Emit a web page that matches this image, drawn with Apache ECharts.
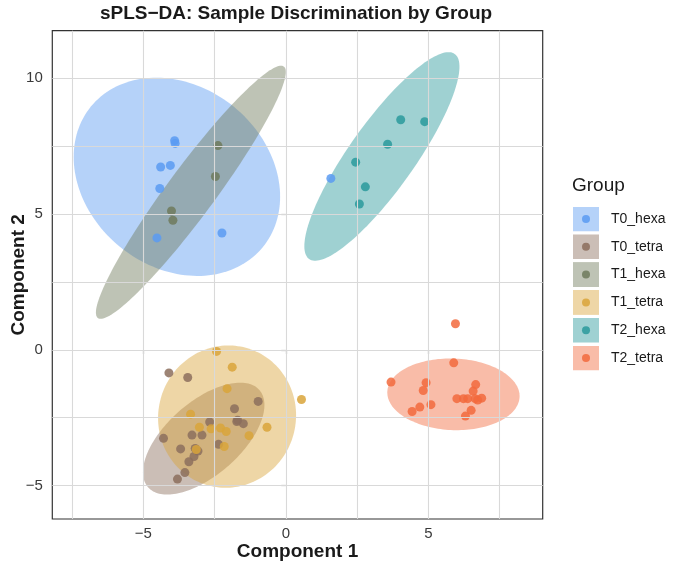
<!DOCTYPE html>
<html><head><meta charset="utf-8">
<script src="https://cdn.jsdelivr.net/npm/echarts@6/dist/echarts.min.js"></script>
<style>html,body{margin:0;padding:0;background:#fff}#chart{width:673px;height:567px}</style>
</head><body><div id="chart"></div>
<script>
// ---- data ----
const groups = ['T0_hexa', 'T0_tetra', 'T1_hexa', 'T1_tetra', 'T2_hexa', 'T2_tetra'];
const groupColors = ['#5B9BF2', '#8C6E5D', '#6E7A5C', '#D9A53A', '#2A9A9C', '#F26A3D'];

const T0_hexa = [[-3.90, 7.70], [-3.88, 7.60], [-4.39, 6.73], [-4.05, 6.79], [-4.42, 5.94], [-4.52, 4.12], [-2.24, 4.30], [1.58, 6.31]];
const T0_tetra = [[-4.10, -0.85], [-3.44, -1.02], [-0.97, -1.90], [-1.80, -2.17], [-2.67, -2.66], [-1.72, -2.64], [-1.69, -2.59], [-1.49, -2.72], [-4.29, -3.26], [-3.29, -3.14], [-2.94, -3.14], [-3.69, -3.65], [-3.18, -3.63], [-3.08, -3.73], [-2.36, -3.48], [-3.22, -3.93], [-3.40, -4.12], [-3.54, -4.52], [-3.80, -4.76]];
const T1_hexa = [[-2.38, 7.52], [-2.47, 6.38], [-4.01, 5.11], [-3.96, 4.77]];
const T1_tetra = [[-2.43, -0.06], [-1.88, -0.64], [-2.06, -1.43], [0.55, -1.83], [-3.34, -2.37], [-0.66, -2.85], [-3.03, -2.85], [-2.62, -2.91], [-2.29, -2.88], [-2.09, -3.01], [-1.29, -3.16], [-2.16, -3.56], [-3.14, -3.67]];
const T2_hexa = [[4.03, 8.47], [4.87, 8.40], [3.57, 7.57], [2.45, 6.91], [2.79, 6.00], [2.58, 5.37]];
const T2_tetra = [[5.95, 0.96], [5.89, -0.48], [3.69, -1.19], [4.92, -1.21], [4.82, -1.50], [6.66, -1.28], [6.57, -1.52], [6.00, -1.80], [6.23, -1.80], [6.38, -1.80], [6.64, -1.80], [6.87, -1.78], [6.73, -1.85], [5.09, -2.02], [4.70, -2.11], [4.43, -2.27], [6.50, -2.23], [6.30, -2.44]];
const groupPoints = [T0_hexa, T0_tetra, T1_hexa, T1_tetra, T2_hexa, T2_tetra];

// confidence ellipses: centre, half-extent in x and y, correlation
const ellipseCx = [-3.82, -2.88, -3.33, -2.06, 3.37, 5.88];
const ellipseCy = [6.37, -3.27, 5.80, -2.46, 7.12, -1.64];
const ellipseEx = [3.62, 2.13, 3.33, 2.42, 2.72, 2.32];
const ellipseEy = [3.65, 2.06, 4.66, 2.62, 3.84, 1.32];
const ellipseR = [-0.20, 0.60, 0.95, 0.02, 0.86, -0.05];

const xTicks = [-5, 0, 5];
const yTicks = [-5, 0, 5, 10];
const xGrid = [-7.5, -5, -2.5, 0, 2.5, 5, 7.5];
const yGrid = [-5, -2.5, 0, 2.5, 5, 7.5, 10];

// ---- chart ----
const FONT = '"Liberation Sans", Arial, Helvetica, sans-serif';
const FILL_ALPHA = 0.45;
const chart = echarts.init(document.getElementById('chart'), null, {renderer: 'canvas'});
const fmt = v => String(v).replace('-', '\u2212');

function renderEllipse(params, api) {
  const cx = api.value(0), cy = api.value(1), ex = api.value(2), ey = api.value(3), r = api.value(4);
  const s = Math.sqrt(1 - r * r);
  const pts = [];
  const N = 160;
  for (let k = 0; k < N; k++) {
    const t = 2 * Math.PI * k / N;
    pts.push(api.coord([cx + ex * Math.cos(t), cy + ey * (r * Math.cos(t) + s * Math.sin(t))]));
  }
  return {type: 'polygon', shape: {points: pts}, style: {fill: api.visual('color'), opacity: FILL_ALPHA}};
}

function legendIcon(c) {
  const svg = "<svg xmlns='http://www.w3.org/2000/svg' width='26' height='25'>" +
    "<rect width='26' height='25' fill='" + c + "' fill-opacity='" + FILL_ALPHA + "'/>" +
    "<circle cx='13' cy='12.5' r='4' fill='" + c + "' fill-opacity='0.85'/></svg>";
  return 'image://data:image/svg+xml;charset=utf-8,' + encodeURIComponent(svg);
}

const series = [];
series.push({
  type: 'scatter', name: '_grid', data: [], silent: true, z: 1,
  markLine: {
    silent: true, symbol: ['none', 'none'], label: {show: false}, animation: false,
    lineStyle: {color: '#d9d9d9', width: 1.1, type: 'solid'},
    emphasis: {disabled: true},
    data: xGrid.map(v => ({xAxis: v})).concat(yGrid.map(v => ({yAxis: v})))
  }
});
groups.forEach((g, i) => {
  series.push({
    type: 'custom', name: g, z: 2, silent: true, clip: true,
    itemStyle: {color: groupColors[i]},
    renderItem: renderEllipse,
    encode: {x: 0, y: 1},
    data: [[ellipseCx[i], ellipseCy[i], ellipseEx[i], ellipseEy[i], ellipseR[i]]]
  });
});
groups.forEach((g, i) => {
  series.push({
    type: 'scatter', name: g, z: 3, symbolSize: 9,
    itemStyle: {color: groupColors[i], opacity: 0.85},
    data: groupPoints[i]
  });
});

const option = {
  animation: false,
  backgroundColor: '#fff',
  textStyle: {fontFamily: FONT},
  title: [
    {text: 'sPLS\u2212DA: Sample Discrimination by Group', left: 296, top: 4, textAlign: 'center', padding: 0,
     textStyle: {fontFamily: FONT, fontSize: 19, fontWeight: 'bold', color: '#1a1a1a'}},
    {text: 'Group', left: 572, top: 176, padding: 0,
     textStyle: {fontFamily: FONT, fontSize: 19, fontWeight: 'normal', color: '#1a1a1a'}}
  ],
  legend: {
    orient: 'vertical', left: 573, top: 206.5, padding: 0,
    itemWidth: 26, itemHeight: 25, itemGap: 2.8, selectedMode: false,
    textStyle: {fontFamily: FONT, fontSize: 14, color: '#1a1a1a', padding: [0, 0, 0, 7]},
    data: groups.map((g, i) => ({name: g, icon: legendIcon(groupColors[i])}))
  },
  grid: {left: 52.3, top: 30.7, width: 490.4, height: 488.3, show: true, borderColor: '#333', borderWidth: 1.2,
         backgroundColor: 'transparent', containLabel: false, outerBoundsMode: 'none'},
  xAxis: {
    type: 'value', min: -8.19, max: 9.01,
    name: 'Component 1', nameLocation: 'middle', nameGap: 23, nameMoveOverlap: false,
    nameTextStyle: {fontFamily: FONT, fontSize: 19, fontWeight: 'bold', color: '#1a1a1a'},
    axisLine: {show: false},
    splitLine: {show: false},
    axisTick: {show: true, customValues: xTicks, length: 4.5, lineStyle: {color: '#333', width: 1.1}},
    axisLabel: {customValues: xTicks, formatter: fmt, margin: 7, fontFamily: FONT, fontSize: 15, color: '#3a3a3a'}
  },
  yAxis: {
    type: 'value', min: -6.23, max: 11.75,
    name: 'Component 2', nameLocation: 'middle', nameGap: 24, nameMoveOverlap: false,
    nameTextStyle: {fontFamily: FONT, fontSize: 19, fontWeight: 'bold', color: '#1a1a1a'},
    axisLine: {show: false},
    splitLine: {show: false},
    axisTick: {show: true, customValues: yTicks, length: 4.5, lineStyle: {color: '#333', width: 1.1}},
    axisLabel: {customValues: yTicks, formatter: fmt, margin: 9.5, fontFamily: FONT, fontSize: 15, color: '#3a3a3a'}
  },
  series: series
};
chart.setOption(option);
</script>
</body></html>
